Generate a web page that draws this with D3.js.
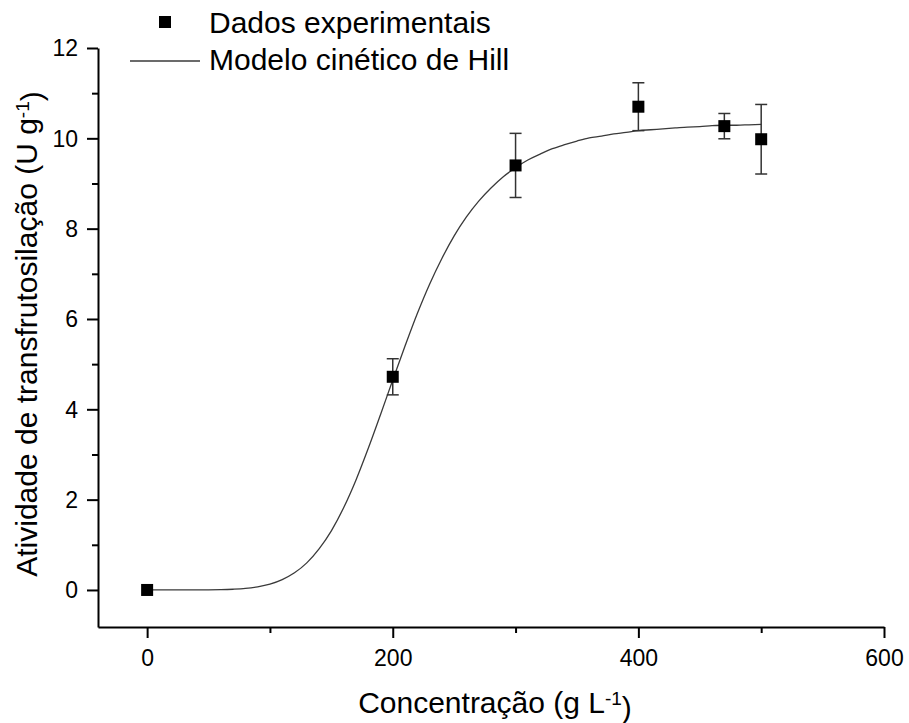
<!DOCTYPE html>
<html>
<head>
<meta charset="utf-8">
<script src="https://cdn.jsdelivr.net/npm/d3@7"></script>
<style>
  html, body { margin: 0; padding: 0; background: #fff; }
  svg { display: block; font-family: "Liberation Sans", Arial, sans-serif; }
</style>
</head>
<body>
<svg id="chart" width="909" height="723"></svg>
<script>
// Experimental transfructosylation activity vs. sucrose concentration
const concentrations = [0, 200, 300, 400, 470, 500];
const activity       = [0, 4.72, 9.40, 10.70, 10.27, 9.98];
const activityError  = [0, 0.40, 0.71, 0.53, 0.28, 0.77];

// Hill kinetic model curve, sampled every 10 g/L
const modelX = [0, 10, 20, 30, 40, 50, 60, 70, 80, 90, 100, 110, 120, 130, 140, 150,
  160, 170, 180, 190, 200, 210, 220, 230, 240, 250, 260, 270, 280, 290, 300,
  310, 320, 330, 340, 350, 360, 370, 380, 390, 400, 410, 420, 430, 440, 450,
  460, 470, 480, 490, 500];
const modelY = [0, 0, 0, 0, 0.001, 0.002, 0.006, 0.016, 0.034, 0.07, 0.13, 0.23, 0.38,
  0.60, 0.91, 1.31, 1.82, 2.43, 3.13, 3.88, 4.65, 5.40, 6.12, 6.77, 7.34, 7.84,
  8.26, 8.61, 8.90, 9.15, 9.35, 9.52, 9.65, 9.77, 9.86, 9.94, 10.01, 10.05,
  10.10, 10.13, 10.17, 10.19, 10.21, 10.23, 10.25, 10.26, 10.28, 10.29, 10.29,
  10.30, 10.31];

const xMajorTicks = [0, 200, 400, 600];
const xMinorTicks = [100, 300, 500];
const yMajorTicks = [0, 2, 4, 6, 8, 10, 12];
const yMinorTicks = [1, 3, 5, 7, 9, 11];

const legendLabels = ["Dados experimentais", "Modelo cinético de Hill"];

const svg = d3.select("#chart");

const x = d3.scaleLinear().domain([-40, 600]).range([98, 884]);
const y = d3.scaleLinear().domain([-0.82, 12]).range([627, 48]);

const axisColor = "#000";
const tickFont = 23;

// Minor ticks (no labels)
svg.append("g")
  .attr("transform", `translate(0,${y.range()[0]})`)
  .call(d3.axisBottom(x).tickValues(xMinorTicks).tickSize(6).tickFormat(""))
  .call(g => g.select(".domain").remove())
  .call(g => g.selectAll("line").attr("stroke", axisColor).attr("stroke-width", 2));

svg.append("g")
  .attr("transform", `translate(${x.range()[0]},0)`)
  .call(d3.axisLeft(y).tickValues(yMinorTicks).tickSize(6).tickFormat(""))
  .call(g => g.select(".domain").remove())
  .call(g => g.selectAll("line").attr("stroke", axisColor).attr("stroke-width", 2));

// Major axes
const xAxis = svg.append("g")
  .attr("transform", `translate(0,${y.range()[0]})`)
  .call(d3.axisBottom(x).tickValues(xMajorTicks).tickSize(11).tickSizeOuter(0).tickPadding(12));

const yAxis = svg.append("g")
  .attr("transform", `translate(${x.range()[0]},0)`)
  .call(d3.axisLeft(y).tickValues(yMajorTicks).tickSize(11).tickSizeOuter(0).tickPadding(9));

[xAxis, yAxis].forEach(g => {
  g.select(".domain").attr("stroke", axisColor).attr("stroke-width", 2);
  g.selectAll(".tick line").attr("stroke", axisColor).attr("stroke-width", 2);
  g.selectAll(".tick text")
    .attr("fill", "#000")
    .style("font-size", tickFont + "px")
    .style("font-family", "'Liberation Sans', Arial, sans-serif");
});
yAxis.selectAll(".tick text").attr("dy", "0.34em");

// Model curve
const line = d3.line()
  .x((d, i) => x(modelX[i]))
  .y(d => y(d))
  .curve(d3.curveMonotoneX);

svg.append("path")
  .datum(modelY)
  .attr("d", line)
  .attr("fill", "none")
  .attr("stroke", "#3a3a3a")
  .attr("stroke-width", 1.3);

// Error bars
const capHalf = 6;
const errG = svg.append("g")
  .attr("stroke", "#333")
  .attr("stroke-width", 1.5);

concentrations.forEach((c, i) => {
  const e = activityError[i];
  if (e <= 0) return;
  const cx = x(c);
  const top = y(activity[i] + e);
  const bot = y(activity[i] - e);
  errG.append("line").attr("x1", cx).attr("x2", cx).attr("y1", top).attr("y2", bot);
  errG.append("line").attr("x1", cx - capHalf).attr("x2", cx + capHalf).attr("y1", top).attr("y2", top);
  errG.append("line").attr("x1", cx - capHalf).attr("x2", cx + capHalf).attr("y1", bot).attr("y2", bot);
});

// Experimental points
const sq = 12;
svg.append("g")
  .selectAll("rect")
  .data(concentrations)
  .join("rect")
  .attr("x", d => x(d) - sq / 2)
  .attr("y", (d, i) => y(activity[i]) - sq / 2)
  .attr("width", sq)
  .attr("height", sq)
  .attr("fill", "#000");

// Axis titles
const titleFont = 30;
const xTitle = svg.append("text")
  .attr("x", 495)
  .attr("y", 713)
  .attr("text-anchor", "middle")
  .style("font-size", titleFont + "px")
  .attr("fill", "#000");
xTitle.append("tspan").text("Concentração (g L");
xTitle.append("tspan").attr("dy", "-0.42em").style("font-size", "19px").text("-1");
xTitle.append("tspan").attr("dy", "0.42em").text(")");

const yTitle = svg.append("text")
  .attr("transform", "translate(37,334) rotate(-90)")
  .attr("text-anchor", "middle")
  .style("font-size", titleFont + "px")
  .attr("fill", "#000");
yTitle.append("tspan").text("Atividade de transfrutosilação (U g");
yTitle.append("tspan").attr("dy", "-0.42em").style("font-size", "19px").text("-1");
yTitle.append("tspan").attr("dy", "0.42em").text(")");

// Legend
const legend = svg.append("g");
legend.append("rect")
  .attr("x", 165 - sq / 2).attr("y", 22 - sq / 2)
  .attr("width", sq).attr("height", sq)
  .attr("fill", "#000");
legend.append("text")
  .attr("x", 209).attr("y", 33)
  .style("font-size", titleFont + "px")
  .text(legendLabels[0]);
legend.append("line")
  .attr("x1", 130).attr("x2", 200)
  .attr("y1", 61).attr("y2", 61)
  .attr("stroke", "#3a3a3a").attr("stroke-width", 1.3);
legend.append("text")
  .attr("x", 209).attr("y", 70)
  .style("font-size", titleFont + "px")
  .text(legendLabels[1]);
</script>
</body>
</html>
